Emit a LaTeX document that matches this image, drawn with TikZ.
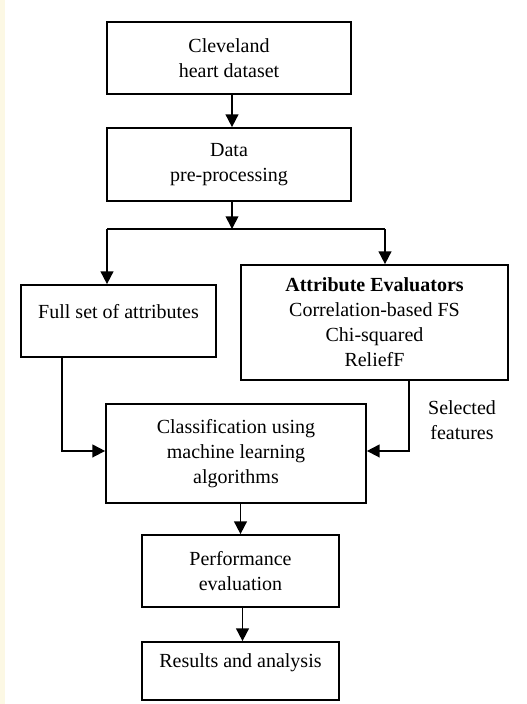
\documentclass[tikz,border=0pt]{standalone}
\usepackage{fontspec}
\setmainfont{Liberation Serif}
\usetikzlibrary{arrows.meta}
\definecolor{cream}{RGB}{252,248,228}
\begin{document}
\begin{tikzpicture}[x=0.75pt,y=-0.75pt,
  box/.style={draw, line width=1.3pt, inner sep=0pt, align=center,
    font=\fontsize{15}{18.8}\selectfont},
  txt/.style={align=center, inner sep=0pt, font=\fontsize{15}{18.8}\selectfont},
  ln/.style={line width=1.3pt},
  conn/.style={line width=1.3pt, -{Triangle[length=9.5pt,width=9.5pt]}}]
\fill[white] (0,0) rectangle (527,704);
\fill[cream] (0,0) rectangle (5,704);
\useasboundingbox (0,0) rectangle (527,704);

\node[box, minimum width=183pt, minimum height=54pt] (b1) at (229,58) {Cleveland\\heart dataset};
\node[box, minimum width=183pt, minimum height=54.75pt] (b2) at (229,164.5) {Data\\pre-processing};
\node[box, minimum width=146.25pt, minimum height=54pt] (fs) at (118.5,321) {};
\node[txt] (fst) at (118.5,312) {Full set of attributes};
\node[box, minimum width=200.25pt, minimum height=86.25pt] (at) at (374.5,322.5)
  {\textbf{Attribute Evaluators}\\Correlation-based FS\\Chi-squared\\ReliefF};
\node[box, minimum width=195pt, minimum height=74.25pt] (cl) at (236,453.5)
  {Classification using\\machine learning\\algorithms};
\node[box, minimum width=147.75pt, minimum height=54pt] (pe) at (240.5,571) {Performance\\evaluation};
\node[box, minimum width=147.75pt, minimum height=43.5pt] (re) at (240.5,671) {};
\node[txt] (ret) at (240.5,663) {Results and analysis};
\node[txt] (sel) at (462,420) {Selected\\features};

\coordinate (sp) at (232,229);
\coordinate (spl) at (107,229);
\coordinate (spr) at (385,229);

\draw[conn] ([xshift=2.25pt]b1.south) -- ([xshift=2.25pt]b2.north);
\draw[conn] ([xshift=2.25pt]b2.south) -- (sp);
\draw[ln] (spl) -- (spr);
\draw[conn] (spl) -- (spl |- fs.north);
\draw[conn] (spr) -- (spr |- at.north);
\draw[conn] ([xshift=-42.4pt]fs.south) |- ([yshift=1.9pt]cl.west);
\draw[conn] ([xshift=25.9pt]at.south) |- ([yshift=1.9pt]cl.east);
\draw[conn] (pe.north |- cl.south) -- (pe.north);
\draw[conn] ([xshift=1.5pt]pe.south) -- ([xshift=1.5pt]re.north);
\end{tikzpicture}
\end{document}
